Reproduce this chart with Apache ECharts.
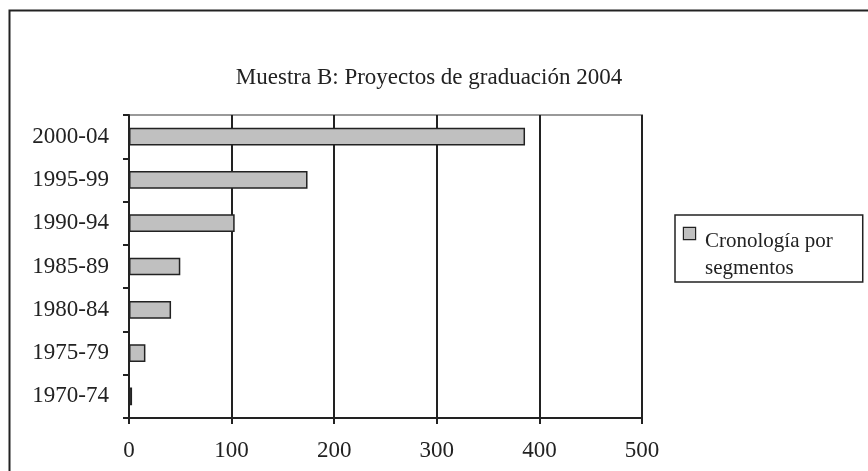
<!DOCTYPE html>
<html>
<head>
<meta charset="utf-8">
<script src="https://cdn.jsdelivr.net/npm/echarts@6/dist/echarts.min.js"></script>
<style>html,body{margin:0;padding:0;background:#fff}#c{width:868px;height:471px}</style>
</head>
<body>
<div id="c"></div>
<script>
const titleText = 'Muestra B: Proyectos de graduación 2004';
const seriesName = 'Cronología por segmentos';
const categories = ['1970-74','1975-79','1980-84','1985-89','1990-94','1995-99','2000-04'];
const values = [3, 16, 41, 50, 103, 174, 386];
const xTicks = [0, 100, 200, 300, 400, 500];

const FONT = '"Liberation Serif", "Times New Roman", serif';
const chart = echarts.init(document.getElementById('c'), null, {renderer: 'canvas'});
chart.setOption({
  backgroundColor: '#ffffff',
  animation: false,
  title: {
    text: titleText, left: 424, top: 61, textAlign: 'center',
    textStyle: {fontFamily: FONT, fontSize: 23, fontWeight: 'normal', color: '#222'}
  },
  graphic: [{
    type: 'rect', left: 7, top: 8, shape: {width: 900, height: 500},
    style: {fill: 'none', stroke: '#222', lineWidth: 2}, silent: true, z: -1
  }],
  legend: {
    left: 675, top: 215, orient: 'vertical',
    padding: [8, 30, 0, 4],
    borderColor: '#222', borderWidth: 1.5,
    itemWidth: 0, itemHeight: 11,
    icon: 'none',
    formatter: () => '{m|}{g|}{t|Cronología por}\n{s|}{t|segmentos}',
    textStyle: {
      fontFamily: FONT, fontSize: 21, color: '#222', lineHeight: 27,
      rich: {
        m: {width: 11, height: 11, backgroundColor: '#c0c0c0', borderColor: '#222', borderWidth: 1.2, verticalAlign: 'top'},
        g: {width: 10},
        s: {width: 21},
        t: {fontFamily: FONT, fontSize: 21, color: '#222', lineHeight: 27}
      }
    }
  },
  grid: {
    left: 129, right: 226, top: 115, bottom: 53,
    show: true, borderColor: '#999', borderWidth: 2, backgroundColor: '#fff'
  },
  xAxis: {
    type: 'value', min: 0, max: 500, interval: 100,
    axisLine: {show: true, lineStyle: {color: '#222', width: 2}},
    axisTick: {show: true, length: 6, lineStyle: {color: '#222', width: 2}},
    splitLine: {show: true, lineStyle: {color: '#222', width: 2}},
    axisLabel: {
      margin: 21, fontFamily: FONT, fontSize: 23, color: '#222',
      formatter: v => xTicks.includes(v) ? String(v) : ''
    }
  },
  yAxis: {
    type: 'category', data: categories,
    axisLine: {show: true, lineStyle: {color: '#222', width: 2}},
    axisTick: {show: true, length: 6, alignWithLabel: false, lineStyle: {color: '#222', width: 2}},
    axisLabel: {margin: 20, fontFamily: FONT, fontSize: 23, color: '#222'}
  },
  series: [{
    name: seriesName, type: 'bar', data: values,
    barCategoryGap: '59%',
    itemStyle: {color: '#c0c0c0', borderColor: '#222', borderWidth: 1.5},
    z: 3
  }]
});
</script>
</body>
</html>
